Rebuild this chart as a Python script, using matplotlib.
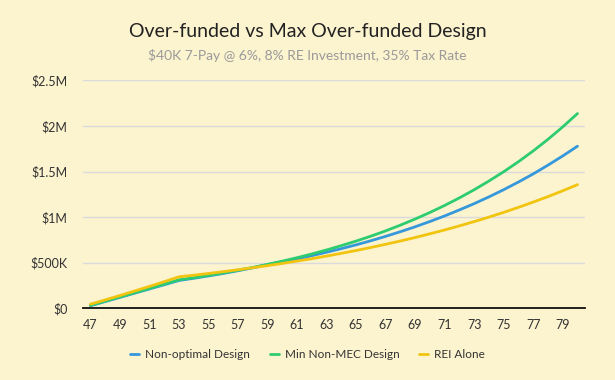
import matplotlib.pyplot as plt
from matplotlib.ticker import FuncFormatter

plt.rcParams['font.family'] = ['Lato', 'DejaVu Sans']

ages = list(range(47, 81))

# values in $K
non_optimal = [28, 74, 120, 166, 212, 258, 305,
               329, 355, 382, 412, 444, 479,
               510, 542, 577, 615, 654, 696, 741, 789, 840, 894, 952,
               1013, 1079, 1148, 1222, 1301, 1385, 1474, 1570, 1671, 1778]
min_non_mec = [32, 78, 124, 171, 218, 265, 312,
               335, 361, 388, 417, 448, 482,
               517, 555, 596, 640, 687, 737, 791, 849, 912, 979, 1051,
               1128, 1211, 1300, 1396, 1498, 1608, 1726, 1853, 1990, 2136]
rei_alone = [45, 92, 140, 190, 240, 292, 345,
             363, 382, 402, 423, 445, 468,
             492, 518, 544, 573, 603, 634, 667, 702, 738, 776, 817,
             859, 904, 951, 1000, 1052, 1107, 1165, 1225, 1289, 1356]

series = [
    ('Non-optimal Design', non_optimal, '#3498db'),
    ('Min Non-MEC Design', min_non_mec, '#2ecc71'),
    ('REI Alone', rei_alone, '#f1c40f'),
]

bg = '#fcf3cf'
fig = plt.figure(figsize=(6.15, 3.8), dpi=100, facecolor=bg)
ax = fig.add_axes([0.135, 0.1887, 0.816, 0.5998], facecolor=bg)

for name, vals, col in series:
    ax.plot(ages, [v * 1000 for v in vals], color=col, lw=2, label=name,
            solid_capstyle='round')

ax.set_xlim(46.5, 80.5)
ax.set_ylim(0, 2.5e6)
ax.set_xticks(range(47, 81, 2))
ax.set_yticks([0, 5e5, 1e6, 1.5e6, 2e6, 2.5e6])

def money(v, pos):
    if v == 0:
        return '$0'
    if v < 1e6:
        return '$%dK' % (v / 1000)
    return '$%gM' % (v / 1e6)

ax.yaxis.set_major_formatter(FuncFormatter(money))
ax.grid(axis='y', color='#d9dadb', lw=1)
ax.set_axisbelow(True)
for s in ['top', 'right', 'left']:
    ax.spines[s].set_visible(False)
ax.spines['bottom'].set_color('#111111')
ax.spines['bottom'].set_linewidth(1.3)
ax.tick_params(axis='both', length=0, labelsize=9, colors='#333333')
ax.tick_params(axis='y', pad=11)
ax.tick_params(axis='x', pad=8)

fig.text(0.5, 0.918, 'Over-funded vs Max Over-funded Design', ha='center', va='center',
         fontsize=14, color='#222222')
fig.text(0.5, 0.855, '$40K 7-Pay @ 6%, 8% RE Investment, 35% Tax Rate', ha='center',
         va='center', fontsize=10, color='#9a9a9a')

fig.legend(loc='center', bbox_to_anchor=(0.5, 0.066), ncol=3, frameon=False,
           fontsize=8.5, handlelength=0.75, handletextpad=0.5, columnspacing=1.7,
           labelcolor='#333333')

fig.savefig('out.png', dpi=100, facecolor=bg)
